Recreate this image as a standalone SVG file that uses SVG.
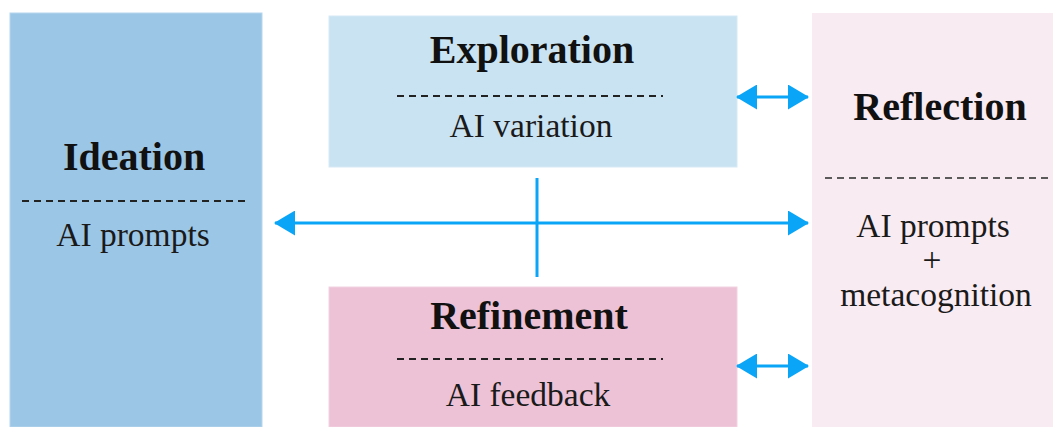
<svg xmlns="http://www.w3.org/2000/svg" width="1053" height="427" viewBox="0 0 1053 427">
  <style>
    .title { font-weight: bold; font-size: 40px; fill: #111; text-anchor: middle; }
    .sub { font-size: 33.5px; fill: #1a1a1a; text-anchor: middle; }
    .dash { stroke: #222; stroke-width: 2; stroke-dasharray: 7 5; fill: none; }
    .dash2 { stroke: #5a5a5a; stroke-width: 2; stroke-dasharray: 7 5; fill: none; }
    .conn { stroke: #0AA5F6; stroke-width: 3; fill: none; }
  </style>
  <defs>
    <marker id="ah" markerUnits="userSpaceOnUse" markerWidth="21" markerHeight="25" viewBox="0 0 21 25" refX="20" refY="12.5" orient="auto-start-reverse">
      <path d="M0,0 L21,12.5 L0,25 z" fill="#0AA5F6"/>
    </marker>
  </defs>
  <rect width="1053" height="427" fill="#ffffff"/>

  <g font-family="Liberation Serif, Times New Roman, serif">
  <g id="ideation">
    <rect x="10" y="13" width="252" height="414" fill="#9CC6E6" stroke="#B5D6EE" stroke-width="1"/>
    <text class="title" x="134" y="170">Ideation</text>
    <line class="dash" x1="22" y1="201" x2="247" y2="201"/>
    <text class="sub" x="133" y="246">AI prompts</text>
  </g>

  <g id="exploration">
    <rect x="329" y="16" width="408" height="151" fill="#C9E3F2" stroke="#D6EAF5" stroke-width="1"/>
    <text class="title" x="532" y="63">Exploration</text>
    <line class="dash" x1="397" y1="96" x2="663" y2="96"/>
    <text class="sub" x="531" y="137">AI variation</text>
  </g>

  <g id="refinement">
    <rect x="329" y="287" width="408" height="140" fill="#EDC2D6" stroke="#F2D2E1" stroke-width="1"/>
    <text class="title" x="529" y="329">Refinement</text>
    <line class="dash" x1="397" y1="359" x2="663" y2="359"/>
    <text class="sub" x="528" y="406">AI feedback</text>
  </g>

  <g id="reflection">
    <rect x="812" y="13" width="241" height="414" fill="#F9EBF2"/>
    <text class="title" x="940" y="120">Reflection</text>
    <line class="dash2" x1="825" y1="178" x2="1050" y2="178"/>
    <text class="sub" x="933" y="237">AI prompts</text>
    <text class="sub" x="932" y="271">+</text>
    <text class="sub" x="936" y="306">metacognition</text>
  </g>
  </g>

  <g id="connectors">
    <line class="conn" x1="737" y1="97" x2="808" y2="97" marker-start="url(#ah)" marker-end="url(#ah)"/>
    <line class="conn" x1="737" y1="366" x2="808" y2="366" marker-start="url(#ah)" marker-end="url(#ah)"/>
    <line class="conn" x1="275" y1="223" x2="808" y2="223" marker-start="url(#ah)" marker-end="url(#ah)"/>
    <line class="conn" x1="537" y1="178" x2="537" y2="277"/>
  </g>
</svg>
